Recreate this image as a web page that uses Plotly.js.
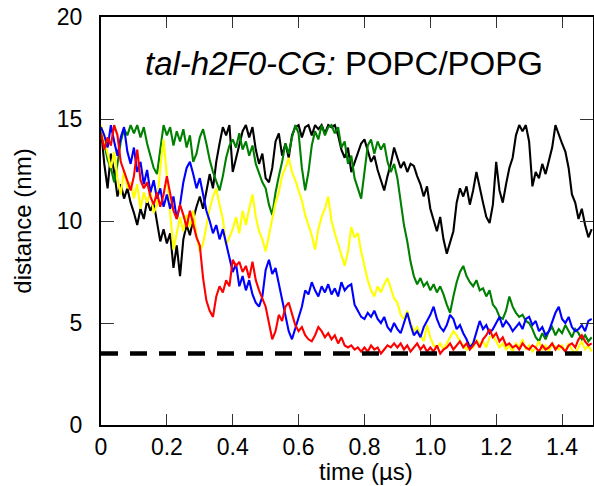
<!DOCTYPE html>
<html>
<head>
<meta charset="utf-8">
<script src="https://cdn.plot.ly/plotly-3.0.1.min.js"></script>
<style>html,body{margin:0;padding:0;background:#fff;}#chart{width:594px;height:486px;}</style>
</head>
<body>
<div id="chart"></div>
<script>
// sampling step of the time series (µs)
const dt = 0.01;

const black = [
14.5, 12.8, 11.6, 13.3, 12.4, 11.2, 11.8, 11.1, 11.6, 10.9,
10.4, 9.8, 10.6, 10.1, 11.0, 10.5, 10.9, 9.9, 9.0, 9.6,
8.9, 9.4, 7.7, 8.8, 7.3, 9.1, 9.8, 9.3, 10.1, 10.7,
11.2, 10.6, 11.5, 12.3, 11.6, 12.9, 13.8, 14.6, 14.2, 14.7,
12.4, 13.1, 13.7, 14.4, 14.7, 14.1, 14.6, 13.5, 12.8, 13.3,
12.1, 11.9, 12.6, 13.9, 14.3, 13.2, 13.8, 13.1, 14.2, 14.6,
14.7, 14.1, 14.6, 14.7, 14.2, 14.7, 14.5, 14.7, 14.3, 14.7,
14.6, 14.7, 14.2, 13.5, 13.1, 13.6, 12.4, 12.9, 13.4, 13.8,
14.0, 13.4, 12.9, 13.2, 12.5, 12.0, 11.5, 12.2, 12.8, 13.6,
13.1, 12.6, 12.9, 12.4, 12.8, 12.7, 12.2, 11.8, 11.2, 11.7,
10.6, 10.1, 9.5, 10.2, 9.1, 8.4, 9.0, 9.5, 10.9, 11.6,
11.2, 11.7, 10.8, 11.5, 12.4, 11.6, 10.9, 10.2, 9.9, 10.8,
12.9, 11.5, 10.9, 11.8, 12.6, 13.1, 14.2, 14.7, 14.4, 14.7,
13.9, 11.7, 12.4, 12.1, 12.8, 12.3, 13.0, 13.6, 14.7, 14.2,
13.8, 13.4, 12.6, 11.3, 10.9, 10.1, 10.6, 9.8, 9.2, 9.6
];

const green = [
14.6, 13.8, 13.0, 12.6, 11.9, 12.8, 13.9, 14.5, 14.2, 14.7,
14.3, 14.7, 14.1, 14.6, 13.8, 13.2, 12.6, 12.3, 13.5, 14.7,
14.2, 14.6, 13.7, 14.4, 13.9, 14.5, 13.6, 14.2, 12.9, 13.3,
14.1, 14.5, 13.8, 13.0, 12.4, 11.9, 11.5, 12.2, 13.1, 13.7,
14.0, 13.6, 14.3, 13.5, 13.9, 13.2, 13.7, 12.8, 12.3, 11.9,
11.6, 10.8, 10.3, 11.4, 12.2, 12.9, 13.8, 13.3, 14.1, 14.7,
14.3, 12.6, 11.5, 12.4, 13.7, 14.4, 14.0, 14.7, 14.2, 14.6,
14.7, 14.3, 14.6, 13.6, 13.9, 12.8, 13.2, 12.1, 11.6, 11.1,
12.4, 13.7, 14.0, 13.3, 13.9, 13.5, 13.8, 12.9, 12.4, 12.8,
12.1, 11.0, 9.8, 9.0, 8.0, 7.3, 6.9, 7.2, 6.8, 7.0,
6.6, 6.9, 6.5, 6.8, 6.4, 5.9, 5.5, 6.3, 7.0, 7.5,
7.8, 7.3, 7.0, 6.8, 7.1, 6.6, 6.7, 6.3, 6.6, 5.9,
5.7, 5.3, 5.2, 5.6, 6.3, 5.8, 5.5, 5.3, 5.4, 5.1,
5.0, 4.7, 4.3, 4.1, 4.5, 4.2, 4.6, 4.8, 4.4, 4.7,
4.5, 4.9, 4.6, 4.3, 4.7, 4.5, 4.2, 4.4, 4.1, 4.3
];

const yellow = [
14.7, 14.0, 13.2, 12.6, 13.4, 12.1, 11.3, 12.5, 11.6, 11.9,
11.1, 11.8, 10.6, 11.4, 10.9, 11.5, 10.4, 10.8, 12.6, 14.0,
12.2, 10.3, 8.6, 9.4, 10.2, 9.5, 10.3, 9.7, 10.5, 9.3,
8.5, 8.9, 9.8, 10.6, 11.2, 11.6, 10.8, 10.1, 8.8, 9.2,
9.6, 10.2, 9.4, 10.5, 9.8, 10.6, 11.3, 10.2, 9.5, 9.1,
8.5, 9.3, 10.1, 10.9, 11.4, 12.2, 12.6, 13.1, 12.4, 12.0,
11.5, 11.0, 10.3, 9.8, 9.3, 8.6, 9.6, 10.2, 10.6, 11.2,
10.0, 9.4, 8.9, 8.3, 7.8, 8.5, 9.7, 9.2, 9.4, 8.5,
7.8, 7.1, 6.6, 6.3, 6.8, 6.5, 6.9, 7.2, 6.7, 6.2,
6.0, 5.4, 5.2, 5.6, 5.0, 4.6, 4.8, 4.4, 4.1, 4.9,
4.3, 3.9, 3.8, 4.0, 3.7, 4.0, 4.3, 4.6, 4.4, 4.1,
3.9, 3.7, 4.0, 3.8, 4.2, 3.9, 4.1, 3.8, 4.3, 4.4,
4.1, 3.8, 4.0, 3.7, 3.9, 3.6, 4.0, 3.8, 4.2, 3.7,
3.9, 3.6, 3.8, 4.1, 3.7, 3.9, 3.6, 4.0, 3.8, 3.7,
3.9, 3.6, 4.0, 3.7, 3.5, 3.8, 4.1, 3.7, 3.9, 3.6
];

const blue = [
14.6, 14.2, 13.6, 14.7, 13.9, 13.2, 14.1, 14.6, 13.4, 12.8,
13.6, 12.4, 12.9, 11.8, 12.5, 11.4, 12.0, 11.1, 11.6, 10.7,
11.3, 10.6, 11.2, 10.1, 10.8, 11.9, 12.6, 12.9, 12.3, 11.6,
12.1, 11.2, 10.5, 10.0, 9.4, 9.8, 9.1, 9.6, 8.9, 8.3,
7.5, 7.9, 6.8, 7.3, 6.6, 7.1, 6.4, 6.0, 5.8, 6.3,
7.6, 8.1, 7.4, 7.7, 6.9, 6.2, 5.4, 4.6, 4.2, 4.7,
5.3, 5.8, 6.6, 6.4, 7.0, 6.6, 6.3, 6.8, 6.5, 6.9,
6.4, 6.7, 6.3, 7.0, 6.6, 6.8, 6.9, 5.9, 5.6, 5.3,
5.2, 5.5, 5.3, 5.6, 5.2, 5.0, 5.3, 4.8, 4.6, 5.0,
4.7, 4.5, 5.0, 5.5, 4.9, 4.4, 4.6, 4.3, 4.8, 5.1,
5.4, 5.8, 5.2, 4.8, 4.6, 4.9, 5.4, 5.2, 4.7, 4.9,
4.5, 4.2, 3.8, 4.0, 4.6, 5.1, 4.7, 4.9, 4.5, 4.7,
5.0, 5.3, 4.8, 5.1, 4.9, 4.6, 4.8, 5.0, 4.7, 5.2,
5.3, 4.9, 5.1, 4.6, 4.8, 4.4, 4.6, 5.1, 5.5, 5.8,
5.2, 5.0, 5.3, 4.8, 4.6, 4.7, 4.9, 4.6, 5.1, 5.2
];

const red = [
14.3, 13.5, 14.1, 13.7, 14.7, 14.2, 12.9, 12.4, 12.0, 11.5,
12.2, 13.5, 12.0, 11.6, 11.9, 11.2, 10.8, 11.4, 10.7, 11.3,
12.2, 11.4, 10.5, 10.1, 10.8, 10.3, 9.7, 10.5, 9.9, 9.2,
8.8, 7.2, 6.1, 5.6, 5.3, 6.3, 6.8, 6.5, 7.1, 6.8,
8.1, 7.8, 8.0, 7.5, 7.8, 7.2, 8.0, 7.1, 6.6, 6.2,
5.8, 5.0, 4.2, 4.6, 5.4, 5.1, 5.8, 6.0, 5.5, 4.9,
4.6, 4.8, 4.4, 4.2, 4.1, 4.4, 4.8, 4.6, 4.3, 4.5,
4.2, 4.4, 4.0, 4.3, 3.9, 3.8, 3.9, 3.7, 3.8, 3.6,
3.8, 3.6, 3.9, 3.7, 3.8, 3.5, 3.7, 3.9, 3.8, 4.0,
3.8, 4.0, 3.7, 3.9, 3.6, 3.8, 4.0, 3.7, 3.9, 3.6,
3.8, 3.6, 3.9, 3.5, 3.7, 3.8, 4.0, 3.7, 3.9, 4.1,
3.8, 4.0, 3.7, 3.9, 4.1, 3.8, 4.2, 4.4, 4.7, 4.3,
4.5, 4.1, 4.3, 3.9, 4.0, 3.8, 3.9, 3.7, 4.0, 3.8,
3.7, 3.9, 3.8, 3.6, 3.9, 3.7, 3.8, 4.0, 3.7, 3.9,
3.8, 3.6, 3.9, 4.0, 3.8, 4.2, 4.4, 4.1, 3.9, 4.0
];

const threshold = 3.5;
const xTickVals = [0, 0.2, 0.4, 0.6, 0.8, 1.0, 1.2, 1.4];
const xTickText = ["0", "0.2", "0.4", "0.6", "0.8", "1.0", "1.2", "1.4"];
const yTickVals = [0, 5, 10, 15, 20];
const yTickText = ["0", "5", "10", "15", "20"];

const time = black.map((_, i) => +(i * dt).toFixed(3));
const xMax = 1.494;

function series(y, color) {
  return { x: time, y: y, type: 'scatter', mode: 'lines',
           line: { color: color, width: 2.1 }, hoverinfo: 'skip', showlegend: false };
}

const traces = [
  series(black, '#000000'),
  series(green, '#008000'),
  series(yellow, '#FFFF00'),
  series(blue, '#0000FF'),
  series(red, '#FF0000'),
  { x: [0, xMax], y: [threshold, threshold], type: 'scatter', mode: 'lines',
    line: { color: '#000000', width: 4.5, dash: '17px,12px' }, hoverinfo: 'skip', showlegend: false }
];

const font = 'Liberation Sans, Arial, sans-serif';
const layout = {
  width: 594, height: 486,
  margin: { l: 101, r: 1, t: 17, b: 61 },
  paper_bgcolor: '#ffffff', plot_bgcolor: '#ffffff',
  font: { family: font, color: '#000000', size: 23 },
  showlegend: false,
  xaxis: {
    range: [0, xMax], tickvals: xTickVals, ticktext: xTickText,
    ticks: 'inside', ticklen: 11, tickwidth: 1, tickcolor: '#333',
    showline: true, linewidth: 2, linecolor: '#000', mirror: 'ticks',
    showgrid: false, zeroline: false, ticklabelstandoff: 0,
    tickfont: { family: font, size: 23, color: '#000' }
  },
  yaxis: {
    range: [0, 20], tickvals: yTickVals, ticktext: yTickText,
    ticks: 'inside', ticklen: 13, tickwidth: 1, tickcolor: '#333',
    showline: true, linewidth: 2, linecolor: '#000', mirror: 'ticks',
    showgrid: false, zeroline: false, ticklabelstandoff: 12,
    tickfont: { family: font, size: 23, color: '#000' },
    title: { text: 'distance (nm)', font: { family: font, size: 24, color: '#000' }, standoff: 18 }
  },
  annotations: [
    {
      xref: 'paper', yref: 'paper', x: 0.493, y: 0.886, xanchor: 'center', yanchor: 'middle',
      text: '<i>tal-h2F0-CG:</i> POPC/POPG', showarrow: false,
      font: { family: font, size: 33, color: '#000' }
    },
    {
      xref: 'paper', yref: 'paper', x: 0.539, y: -0.113, xanchor: 'center', yanchor: 'middle',
      text: 'time (µs)', showarrow: false,
      font: { family: font, size: 24, color: '#000' }
    }
  ]
};

Plotly.newPlot('chart', traces, layout, { staticPlot: true, displayModeBar: false });
</script>
</body>
</html>
